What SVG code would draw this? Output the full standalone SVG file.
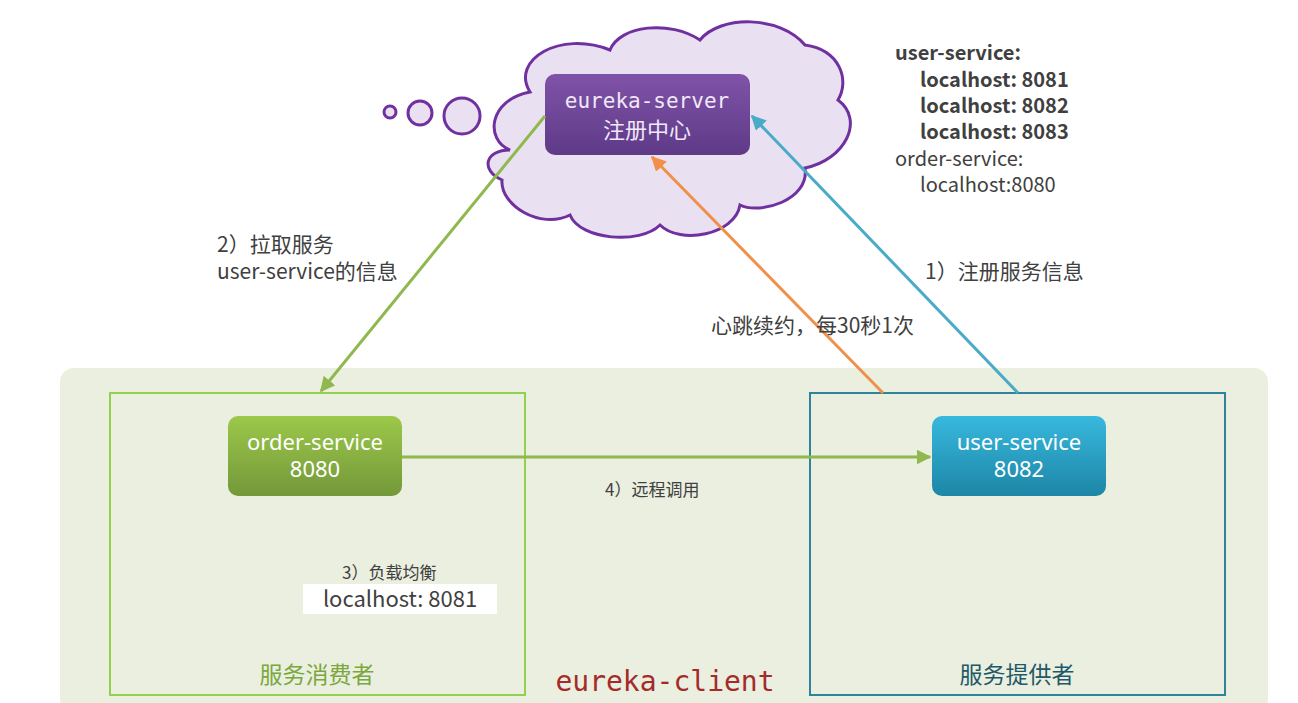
<svg xmlns="http://www.w3.org/2000/svg" width="1298" height="703" viewBox="0 0 1298 703">
<defs>
<linearGradient id="gp" x1="0" y1="0" x2="0" y2="1"><stop offset="0" stop-color="#8053a8"/><stop offset="1" stop-color="#5e3a87"/></linearGradient>
<linearGradient id="gg" x1="0" y1="0" x2="0" y2="1"><stop offset="0" stop-color="#9cc84a"/><stop offset="1" stop-color="#74983a"/></linearGradient>
<linearGradient id="gb" x1="0" y1="0" x2="0" y2="1"><stop offset="0" stop-color="#38b8de"/><stop offset="1" stop-color="#1d86a6"/></linearGradient>
<marker id="ag" viewBox="0 0 10 10" refX="9" refY="5" markerWidth="5" markerHeight="5" orient="auto"><path d="M0,0L10,5L0,10z" fill="#8fb84e"/></marker>
<marker id="ao" viewBox="0 0 10 10" refX="9" refY="5" markerWidth="5" markerHeight="5" orient="auto"><path d="M0,0L10,5L0,10z" fill="#f0904a"/></marker>
<marker id="ab" viewBox="0 0 10 10" refX="9" refY="5" markerWidth="5" markerHeight="5" orient="auto"><path d="M0,0L10,5L0,10z" fill="#4aaac8"/></marker>
</defs>
<style>
.t{font-family:"Microsoft YaHei","Noto Sans CJK SC",sans-serif;fill:#404040}
.w{font-family:"Noto Sans","Noto Sans CJK SC",sans-serif;fill:#fff;text-anchor:middle}
.m{font-family:"DejaVu Sans Mono","Noto Sans CJK SC",monospace}
</style>
<rect width="1298" height="703" fill="#fff"/>
<rect x="60" y="368" width="1208" height="345" rx="14" fill="#ebefdf"/>
<g id="consumer"><rect x="110" y="393" width="415" height="302" fill="none" stroke="#92d050" stroke-width="2"/>
<text x="317" y="683" class="t" font-size="23" style="fill:#7aa83e" text-anchor="middle">服务消费者</text></g>
<g id="provider"><rect x="810" y="393" width="415" height="302" fill="none" stroke="#2e8499" stroke-width="2"/>
<text x="1017" y="683" class="t" font-size="23" style="fill:#215968" text-anchor="middle">服务提供者</text></g>
<text x="665" y="691" class="m" font-size="28" fill="#a52a2a" text-anchor="middle">eureka-client</text>
<g id="cloud" fill="#e9e1f1" stroke="#7030a0" stroke-width="3">
<circle cx="390" cy="112" r="6"/><circle cx="420" cy="113" r="12"/><circle cx="462" cy="116" r="18"/>
<path d="M530,92 C510,60 560,30 610,50 C620,25 670,20 700,40 C720,15 780,15 805,45 C840,50 850,80 838,100 C865,120 845,160 805,168 C810,200 760,215 740,205 C735,235 680,245 660,225 C640,245 580,240 570,215 C540,230 500,205 502,180 C480,170 485,150 510,150 C485,140 488,100 530,92 Z"/>
</g>
<g id="eureka-server"><rect x="545" y="74" width="205" height="81" rx="10" fill="url(#gp)"/>
<text x="647" y="108" class="w m" font-size="21" style="fill:#f0e8f8">eureka-server</text>
<text x="647" y="138" class="w" font-size="22" style="fill:#f0e8f8">注册中心</text></g>
<g id="order-service"><rect x="228" y="416" width="174" height="80" rx="10" fill="url(#gg)"/>
<text x="315" y="450" class="w" font-size="22">order-service</text><text x="315" y="477" class="w" font-size="22">8080</text></g>
<g id="user-service"><rect x="932" y="416" width="174" height="80" rx="10" fill="url(#gb)"/>
<text x="1019" y="450" class="w" font-size="22">user-service</text><text x="1019" y="477" class="w" font-size="22">8082</text></g>
<g id="connectors" stroke-width="3" fill="none">
<line x1="545" y1="116" x2="321" y2="391" stroke="#8fb84e" marker-end="url(#ag)"/>
<line x1="883" y1="393" x2="652" y2="157" stroke="#f0904a" marker-end="url(#ao)"/>
<line x1="1018" y1="393" x2="752" y2="116" stroke="#4aaac8" marker-end="url(#ab)"/>
<line x1="402" y1="457" x2="930" y2="457" stroke="#8fb84e" marker-end="url(#ag)"/>
</g>
<g class="t" font-size="20">
<text x="895" y="60" font-weight="bold">user-service:</text>
<text x="920" y="87" font-weight="bold">localhost: 8081</text>
<text x="920" y="113" font-weight="bold">localhost: 8082</text>
<text x="920" y="139" font-weight="bold">localhost: 8083</text>
<text x="895" y="166">order-service:</text>
<text x="920" y="192">localhost:8080</text>
</g>
<g class="t" font-size="21">
<text x="217" y="252">2）拉取服务</text>
<text x="217" y="279">user-service的信息</text>
<text x="925" y="279">1）注册服务信息</text>
<text x="711" y="333">心跳续约，每30秒1次</text>
</g>
<text x="605" y="496" class="t" font-size="17">4）远程调用</text>
<text x="342" y="579" class="t" font-size="17">3）负载均衡</text>
<rect x="303" y="584" width="194" height="30" fill="#fff"/>
<text x="400" y="607" class="t" font-size="22" text-anchor="middle">localhost: 8081</text>
</svg>
